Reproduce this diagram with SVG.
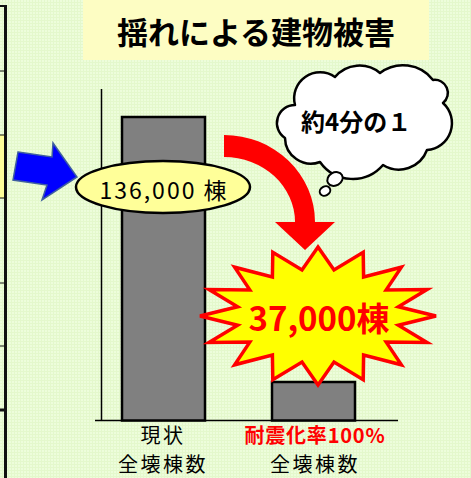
<svg xmlns="http://www.w3.org/2000/svg" width="471" height="478" viewBox="0 0 471 478">
  <defs>
    <style>
      .jp { font-family: "Noto Sans CJK JP", "Noto Sans", sans-serif; }
      .bar { fill: #808080; stroke: #000; stroke-width: 2.5; }
      .axis { stroke: #000; stroke-width: 1.5; fill: none; }
      .frame { stroke: #111; fill: none; }
      .lbl { font-size: 20px; fill: #000; text-anchor: middle; letter-spacing: 2.5px; }
    </style>
    <pattern id="grid" width="3" height="3" patternUnits="userSpaceOnUse">
      <rect width="3" height="3" fill="#e4f8cc"/>
      <rect width="2" height="2" fill="#edfddb"/>
    </pattern>
  </defs>

  <g id="background">
    <rect x="0" y="0" width="471" height="478" fill="url(#grid)"/>
  </g>

  <g id="left-frame">
    <rect x="0" y="135" width="4.5" height="63" fill="#ffff99"/>
    <line class="frame" x1="5.5" y1="5" x2="5.5" y2="478" stroke-width="3"/>
    <line class="frame" x1="0" y1="6" x2="7" y2="6" stroke-width="2"/>
    <line class="frame" x1="0" y1="71" x2="5" y2="71" stroke-width="1"/>
    <line class="frame" x1="0" y1="135" x2="5" y2="135" stroke-width="1"/>
    <line class="frame" x1="0" y1="198" x2="5" y2="198" stroke-width="1"/>
    <line class="frame" x1="0" y1="283" x2="5" y2="283" stroke-width="1"/>
    <line class="frame" x1="0" y1="346" x2="5" y2="346" stroke-width="1"/>
    <line class="frame" x1="0" y1="410" x2="5" y2="410" stroke-width="3"/>
  </g>

  <g id="title">
    <rect x="83" y="0" width="346" height="60" fill="#fdfdc3"/>
    <text class="jp" x="256" y="44" font-size="31" font-weight="bold" text-anchor="middle" fill="#000">揺れによる建物被害</text>
  </g>

  <g id="chart-axes">
    <line class="axis" x1="101.5" y1="89" x2="101.5" y2="420.5"/>
    <line class="axis" x1="95" y1="420.5" x2="398" y2="420.5"/>
  </g>

  <g id="bar-current">
    <rect class="bar" x="122" y="117" width="83" height="303.5"/>
  </g>

  <g id="bar-retrofit">
    <rect class="bar" x="272" y="382" width="83" height="38.5"/>
  </g>

  <g id="label-current">
    <text class="jp lbl" x="163" y="443"><tspan x="163" y="443">現状</tspan><tspan x="163" y="472">全壊棟数</tspan></text>
  </g>

  <g id="label-retrofit">
    <text class="jp lbl" x="315" y="443"><tspan x="315" y="443" font-weight="bold" style="fill:#ff0000;letter-spacing:0.8px">耐震化率100%</tspan><tspan x="315" y="472">全壊棟数</tspan></text>
  </g>

  <g id="ellipse-136000">
    <ellipse cx="163" cy="187" rx="87" ry="26" fill="#ffff99" stroke="#000" stroke-width="2.5"/>
    <text class="jp" x="164" y="199" font-size="23" letter-spacing="2" text-anchor="middle" fill="#000">136,000 棟</text>
  </g>

  <g id="starburst">
    <polygon points="318,247 334,269.9 363.2,252.3 363.6,276.9 401.4,267.2 386.2,289.9 427,289.6 398.4,306.8 436,316 398.4,325.2 427,342.4 386.2,342.1 401.4,364.8 363.6,355.1 363.2,379.7 334,362.1 318,385 302,362.1 272.8,379.7 272.4,355.1 234.6,364.8 249.8,342.1 209,342.4 237.6,325.2 200,316 237.6,306.8 209,289.6 249.8,289.9 234.6,267.2 272.4,276.9 272.8,252.3 302,269.9" fill="#ffff00" stroke="#ff0000" stroke-width="3.5" stroke-linejoin="miter"/>
    <text class="jp" x="319" y="331" font-size="33" font-weight="bold" text-anchor="middle" fill="#ff0000">37,000棟</text>
  </g>

  <g id="cloud">
    <path d="M285,138 A18,18 0 0 1 295,105 A26,26 0 0 1 335,77 A32,32 0 0 1 380,73 A38,38 0 0 1 433,80 A13,13 0 0 1 443,103 A27,27 0 0 1 427,150 A30,30 0 0 1 383,165 A40,40 0 0 1 320,162 A26,26 0 0 1 285,138 Z" fill="#ffffff" stroke="#000" stroke-width="2.5" stroke-linejoin="round"/>
    <ellipse cx="335" cy="179" rx="8" ry="6.5" transform="rotate(-30 335 179)" fill="#fff" stroke="#000" stroke-width="2"/>
    <ellipse cx="325" cy="191" rx="5.5" ry="4.5" transform="rotate(-30 325 191)" fill="#fff" stroke="#000" stroke-width="2"/>
    <text class="jp" x="301" y="131" font-size="24" font-weight="bold" fill="#000">約4分の１</text>
  </g>

  <g id="connectors">
    <path id="blue-arrow" d="M18,152 L52,157 L53,143 L77,177 L42,200 L47,185 L13,180 Z" fill="#0000ff" stroke="#3f5f9f" stroke-width="1.5" stroke-linejoin="miter"/>
    <path id="red-arrow" d="M224,135 A91,87 0 0 1 315,222 L335,222 L305,250 L275,222 L295,222 A71,65 0 0 0 224,157 Z" fill="#ff0000"/>
  </g>
</svg>
